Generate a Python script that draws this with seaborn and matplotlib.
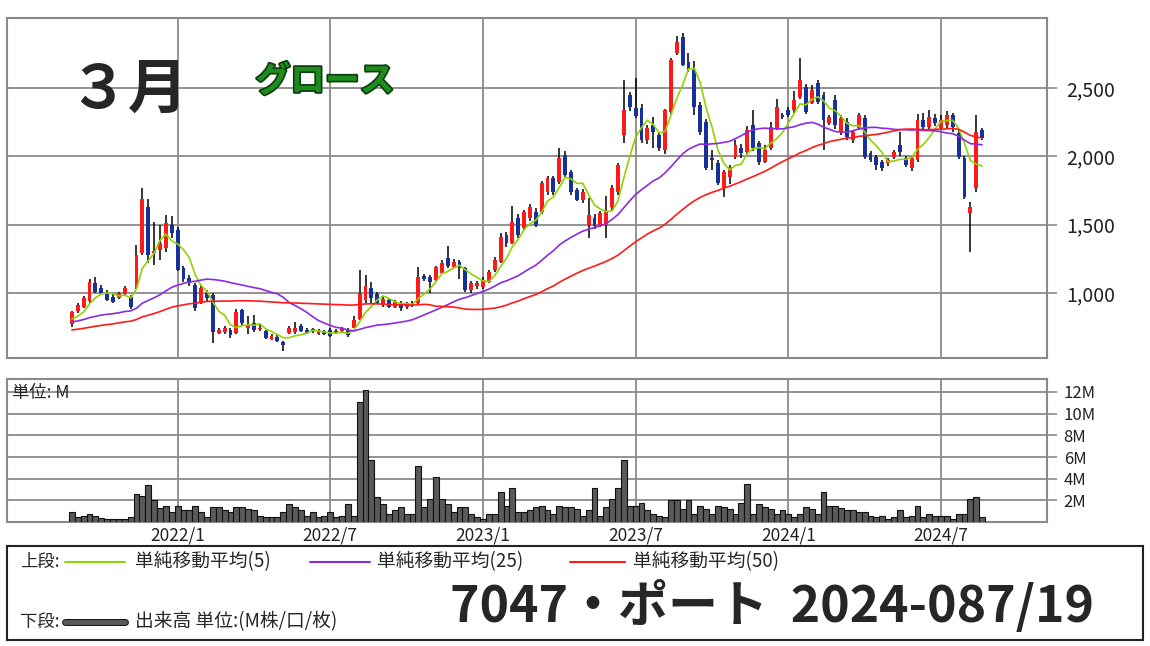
import pandas as pd
import matplotlib
matplotlib.use("Agg")
import matplotlib.pyplot as plt
import matplotlib.dates as mdates
import matplotlib.patheffects as pe
from matplotlib.lines import Line2D
import seaborn as sns

# weekly candles, first week 2021-08-30
first_week = "2021-08-30"
opens = [770, 865, 900, 940, 1075, 1035, 1000, 970, 965, 995,
         970, 1040, 1290, 1630, 1290, 1315, 1330, 1500, 1460, 1180,
         1110, 1060, 930, 1000, 985, 710, 715, 730, 707, 876,
         740, 780, 735, 722, 663, 680, 641, 707, 715, 758,
         730, 735, 700, 725, 729, 720, 720, 729, 745, 810,
         950, 1040, 990, 915, 950, 900, 930, 895, 905, 927,
         1124, 1120, 1095, 1146, 1256, 1190, 1227, 1180, 1022, 1050,
         1044, 1080, 1168, 1227, 1425, 1366, 1549, 1476, 1549, 1593,
         1593, 1740, 1842, 1813, 2010, 1886, 1754, 1681, 1500, 1550,
         1498, 1500, 1630, 1740, 2157, 2449, 2354, 2354, 2120, 2230,
         2157, 2047, 2325, 2757, 2874, 2690, 2632, 2376, 2252, 1990,
         1952, 1769, 1850, 1996, 2060, 2032, 2230, 2098, 1960, 2061,
         2208, 2300, 2340, 2340, 2435, 2508, 2391, 2537, 2450, 2245,
         2413, 2179, 2250, 2120, 2208, 2281, 2025, 1996, 1959, 1950,
         1996, 2083, 1988, 1915, 1974, 2266, 2215, 2280, 2208, 2230,
         2303, 2171, 1988, 1586, 1769, 2193]
highs = [870, 930, 980, 1100, 1115, 1060, 1020, 990, 1010, 1050,
         985, 1350, 1770, 1690, 1520, 1500, 1570, 1560, 1480, 1200,
         1130, 1070, 1060, 1020, 1000, 745, 760, 745, 880, 885,
         830, 840, 770, 730, 700, 690, 650, 760, 790, 770,
         740, 745, 735, 730, 745, 735, 750, 740, 830, 1170,
         1130, 1080, 1010, 970, 960, 950, 940, 935, 940, 1190,
         1140, 1130, 1200, 1240, 1344, 1250, 1240, 1190, 1090, 1090,
         1120, 1170, 1260, 1440, 1450, 1634, 1580, 1610, 1650, 1620,
         1820, 1860, 1860, 2061, 2040, 1900, 1770, 1760, 1695, 1580,
         1600, 1710, 1790, 1950, 2559, 2470, 2574, 2380, 2230, 2290,
         2180, 2350, 2720, 2881, 2900, 2760, 2700, 2400, 2270, 2050,
         1970, 1900, 1940, 2120, 2090, 2220, 2340, 2110, 2080, 2250,
         2420, 2320, 2360, 2480, 2720, 2530, 2520, 2560, 2470, 2300,
         2450, 2300, 2280, 2190, 2320, 2300, 2040, 2010, 1975, 1990,
         2050, 2180, 2000, 2000, 2310, 2320, 2340, 2310, 2300, 2330,
         2320, 2200, 2000, 1666, 2300, 2210]
lows = [750, 855, 890, 930, 1000, 990, 940, 930, 955, 985,
        880, 1030, 1280, 1220, 1205, 1240, 1300, 1400, 1160, 1080,
        1050, 870, 920, 940, 635, 700, 700, 670, 700, 760,
        700, 715, 720, 665, 655, 640, 575, 700, 700, 715,
        700, 710, 690, 690, 680, 700, 705, 680, 740, 800,
        930, 930, 920, 900, 890, 890, 870, 880, 895, 920,
        1090, 1000, 1090, 1140, 1180, 1180, 1100, 1010, 1000, 1030,
        1030, 1070, 1150, 1220, 1340, 1360, 1400, 1460, 1530, 1480,
        1580, 1720, 1720, 1800, 1850, 1720, 1670, 1660, 1403, 1470,
        1480, 1403, 1610, 1720, 2100, 2330, 2280, 2100, 2090, 2060,
        2040, 2020, 2310, 2740, 2660, 2620, 2300, 2160, 1900, 1900,
        1790, 1700, 1800, 1980, 1990, 2010, 2040, 1940, 1950, 2050,
        2190, 2270, 2290, 2320, 2420, 2310, 2380, 2380, 2047, 2230,
        2200, 2160, 2120, 2100, 2190, 1980, 1960, 1900, 1895, 1930,
        1980, 2000, 1920, 1890, 1960, 2200, 2200, 2220, 2190, 2210,
        2180, 1980, 1690, 1300, 1740, 2120]
closes = [860, 915, 960, 1080, 1010, 1000, 950, 935, 1000, 1035,
          900, 1280, 1690, 1280, 1310, 1366, 1510, 1440, 1170, 1100,
          1070, 890, 1040, 960, 715, 730, 742, 690, 860, 780,
          760, 729, 745, 670, 685, 645, 619, 743, 740, 722,
          705, 720, 725, 700, 685, 708, 743, 690, 805, 1000,
          1050, 960, 930, 955, 900, 935, 890, 925, 930, 1117,
          1100, 1080, 1190, 1220, 1198, 1227, 1180, 1022, 1073, 1070,
          1095, 1154, 1242, 1410, 1366, 1520, 1425, 1593, 1630, 1498,
          1805, 1842, 1740, 1988, 1864, 1740, 1681, 1740, 1571, 1490,
          1586, 1590, 1769, 1937, 2340, 2361, 2296, 2120, 2208, 2179,
          2061, 2340, 2705, 2837, 2669, 2647, 2361, 2179, 1915, 1975,
          1805, 1886, 1920, 2083, 2025, 2193, 2061, 1959, 2050, 2215,
          2361, 2285, 2305, 2413, 2559, 2325, 2486, 2398, 2266, 2288,
          2230, 2281, 2140, 2179, 2303, 1996, 1974, 1937, 1915, 1975,
          2032, 2032, 1937, 1988, 2266, 2215, 2288, 2245, 2266, 2303,
          2215, 1996, 1703, 1630, 2179, 2135]
# closes of the 49 weeks before the chart (feed the moving averages only)
pre_closes = [640, 655, 660, 650, 670, 680, 665, 650, 645, 660,
              675, 690, 700, 685, 670, 665, 680, 690, 700, 695,
              680, 670, 660, 665, 680,
              700, 720, 740, 760, 780, 800, 820, 830, 810, 790,
              780, 770, 790, 810, 820, 800, 790, 780, 770, 780,
              800, 810, 790, 780]
volume_m = [0.9, 0.45, 0.6, 0.75, 0.55, 0.4, 0.25, 0.25, 0.25, 0.3,
            0.45, 2.6, 2.4, 3.4, 2.0, 1.3, 1.5, 0.9, 1.5, 1.1,
            1.1, 1.5, 0.9, 0.45, 1.4, 1.4, 1.1, 0.9, 1.4, 1.4,
            1.2, 1.1, 0.6, 0.45, 0.45, 0.45, 0.9, 1.7, 1.4, 1.1,
            0.6, 0.9, 0.45, 0.6, 0.9, 0.45, 0.6, 1.7, 0.6, 11.1,
            12.2, 5.7, 2.3, 1.7, 0.77, 1.1, 1.4, 0.77, 0.77, 5.2,
            1.4, 2.15, 4.2, 2.15, 1.7, 0.9, 1.4, 1.4, 0.77, 0.46,
            0.3, 0.77, 0.77, 2.8, 1.5, 3.1, 0.9, 0.9, 1.1, 1.4,
            1.5, 1.1, 0.77, 1.5, 1.4, 1.4, 1.2, 0.6, 1.1, 3.1,
            0.6, 1.4, 2.1, 3.1, 5.75, 1.5, 1.5, 1.75, 1.1, 0.77,
            0.6, 0.46, 2.0, 2.06, 1.2, 2.0, 0.77, 1.5, 1.2, 0.77,
            1.5, 1.4, 1.2, 0.77, 1.75, 3.5, 0.77, 1.7, 1.4, 1.2,
            0.77, 1.1, 0.7, 0.46, 0.77, 1.4, 1.2, 0.77, 2.8, 1.5,
            1.45, 1.3, 1.1, 1.1, 0.9, 0.9, 0.6, 0.46, 0.6, 0.3,
            0.5, 1.1, 0.46, 0.6, 1.45, 0.5, 0.77, 0.6, 0.6, 0.6,
            0.3, 0.77, 0.77, 2.15, 2.3, 0.46]

ma_windows = [5, 25, 50]
ma_colors = ["#8fd400", "#8a2be2", "#ff1a1a"]
ma_labels = ["単純移動平均(5)", "単純移動平均(25)", "単純移動平均(50)"]
date_ticks = ["2022-01-03", "2022-07-04", "2023-01-02", "2023-07-03", "2024-01-01", "2024-07-01"]
date_labels = ["2022/1", "2022/7", "2023/1", "2023/7", "2024/1", "2024/7"]
price_ticks = [1000, 1500, 2000, 2500]
price_labels = ["1,000", "1,500", "2,000", "2,500"]
vol_ticks = [2, 4, 6, 8, 10, 12]
vol_labels = ["2M", "4M", "6M", "8M", "10M", "12M"]

sns.set_style("white")
cjk = ["Noto Sans CJK JP", "DejaVu Sans"]
plt.rcParams["font.family"] = cjk

W, H = 1150, 646


def fx(px):
    return px / W


def fy(py):
    return 1 - py / H


df = pd.DataFrame({"open": opens, "high": highs, "low": lows, "close": closes, "vol": volume_m})
df["date"] = pd.date_range(first_week, periods=len(df), freq="7D")
df["x"] = mdates.date2num(df["date"])
all_close = pd.Series(pre_closes + closes, dtype=float)
for w in ma_windows:
    df[f"ma{w}"] = all_close.rolling(w).mean().iloc[len(pre_closes):].to_numpy()
up = df["close"] >= df["open"]
body_colors = ["#ff1a1a" if u else "#17309c" for u in up]

fig = plt.figure(figsize=(W / 100, H / 100), dpi=100)
ax_p = fig.add_axes([fx(7), fy(358), fx(1040), 340 / H])
ax_v = fig.add_axes([fx(7), fy(522), fx(1040), 143 / H])

grid_col = "#8a8a8a"
xlo = df["x"].iloc[0] - 11.05 * 7
xhi = df["x"].iloc[-1] + 11.05 * 7
tick_x = mdates.date2num(pd.to_datetime(date_ticks))

# price panel
ax_p.vlines(df["x"], df["low"], df["high"], color="black", lw=1.1, zorder=3)
ax_p.bar(df["x"], (df["close"] - df["open"]).abs().clip(lower=6),
         bottom=df[["open", "close"]].min(axis=1), width=4.6,
         color=body_colors, linewidth=0, zorder=4)
for w, c in zip(ma_windows, ma_colors):
    sns.lineplot(x=df["x"], y=df[f"ma{w}"], ax=ax_p, color=c, linewidth=1.2, zorder=5)
ax_p.set_xlim(xlo, xhi)
ax_p.set_ylim(524, 3013)
ax_p.set_xticks(tick_x)
ax_p.set_xticklabels([])
ax_p.set_yticks(price_ticks)
ax_p.set_yticklabels(price_labels)
ax_p.yaxis.tick_right()
ax_p.tick_params(axis="y", direction="out", length=7, width=1.2, color=grid_col,
                 labelsize=14, pad=7, labelcolor="#222222")
ax_p.tick_params(axis="x", length=0)
ax_p.set_xlabel("")
ax_p.set_ylabel("")

# volume panel
ax_v.bar(df["x"], df["vol"], width=7, color="#5a5a5a", edgecolor="#111111", linewidth=0.8, zorder=3)
ax_v.set_xlim(xlo, xhi)
ax_v.set_ylim(0, 13.2)
ax_v.set_xticks(tick_x)
ax_v.set_xticklabels(date_labels)
ax_v.set_yticks(vol_ticks)
ax_v.set_yticklabels(vol_labels)
ax_v.yaxis.tick_right()
ax_v.tick_params(axis="y", direction="out", length=7, width=1.2, color=grid_col,
                 labelsize=12, pad=5, labelcolor="#222222")
ax_v.tick_params(axis="x", length=0, labelsize=12.5, pad=3, labelcolor="#222222")
ax_v.text(0.005, 0.905, "単位: M", transform=ax_v.transAxes, fontsize=12.5,
          va="center", ha="left", zorder=6)

for ax in (ax_p, ax_v):
    ax.grid(True, color=grid_col, linewidth=1.3, zorder=0)
    ax.set_axisbelow(True)
    for s in ax.spines.values():
        s.set_color(grid_col)
        s.set_linewidth(1.5)

# titles
fig.text(fx(128), fy(92), "３月", fontsize=43, fontweight="bold", ha="center", va="center")
fig.text(fx(325), fy(81), "グロース", fontsize=25, fontweight="bold", color="#1f8c1f",
         ha="center", va="center",
         path_effects=[pe.withStroke(linewidth=2.5, foreground="#0d3f0d")])

# legend box
ax_l = fig.add_axes([fx(7), fy(640), fx(1136), 94 / H])
ax_l.set_xticks([])
ax_l.set_yticks([])
for s in ax_l.spines.values():
    s.set_color("#222222")
    s.set_linewidth(1.5)

fig.text(fx(20), fy(562), "上段:", fontsize=12.5, va="center", ha="left")
line_spans = [(65, 125), (310, 370), (570, 625)]
label_x = [135, 377, 633]
for (a, b), c, lab, lx in zip(line_spans, ma_colors, ma_labels, label_x):
    fig.add_artist(Line2D([fx(a), fx(b)], [fy(562), fy(562)], color=c, lw=1.5))
    fig.text(fx(lx), fy(562), lab, fontsize=13.5, va="center", ha="left")

fig.text(fx(20), fy(622), "下段:", fontsize=12.5, va="center", ha="left")
fig.add_artist(Line2D([fx(65), fx(125)], [fy(622), fy(622)], color="#5a5a5a", lw=3.5,
                      path_effects=[pe.Stroke(linewidth=5, foreground="#111111"), pe.Normal()]))
fig.text(fx(135), fy(622), "出来高 単位:(M株/口/枚)", fontsize=13.5, va="center", ha="left")

fig.text(fx(450), fy(606), "7047・ポート  2024-087/19", fontsize=36, fontweight="bold",
         va="center", ha="left")

fig.savefig("out.png", dpi=100)
